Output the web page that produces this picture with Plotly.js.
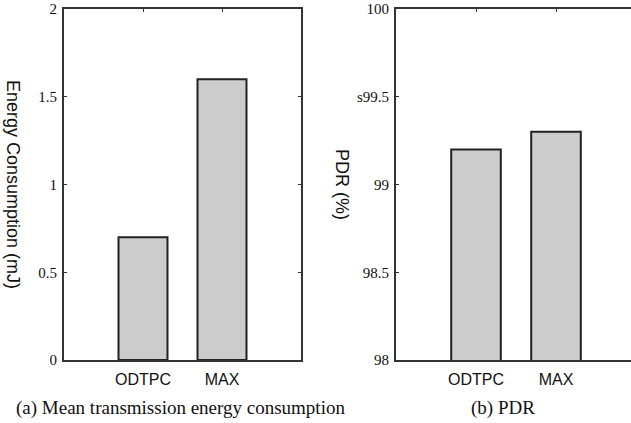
<!DOCTYPE html>
<html>
<head>
<meta charset="utf-8">
<script src="https://cdn.plot.ly/plotly-3.0.1.min.js"></script>
<style>
html,body{margin:0;padding:0;overflow:hidden;background:#fff;}
#chart{width:645px;height:423px;}
</style>
</head>
<body>
<div id="chart"></div>
<script>
var categories = ['ODTPC', 'MAX'];
var energy = [0.7, 1.6];
var pdr = [99.2, 99.3];
var energyTickVals = [0, 0.5, 1, 1.5, 2];
var energyTickText = ['0', '0.5', '1', '1.5', '2'];
var pdrTickVals = [98, 98.5, 99, 99.5, 100];
var pdrTickText = ['98', '98.5', '99', 's99.5', '100'];
var leftYTitle = 'Energy Consumption (mJ)';
var rightYTitle = 'PDR (%)';
var captionA = '(a) Mean transmission energy consumption';
var captionB = '(b) PDR';

var W = 645, H = 423;
function px(x){ return x / W; }
function py(y){ return (H - y) / H; }

var barStyle = {color: '#cccccc', line: {color: '#222222', width: 2}};

var traces = [
  {type: 'bar', x: categories, y: energy, width: 0.62, marker: barStyle, xaxis: 'x', yaxis: 'y', hoverinfo: 'none'},
  {type: 'bar', x: categories, y: pdr, width: 0.62, marker: barStyle, xaxis: 'x2', yaxis: 'y2', hoverinfo: 'none'}
];

var axisCommon = {
  showline: true, linecolor: '#333333', linewidth: 2, mirror: 'ticks',
  ticks: 'inside', ticklen: 3, tickwidth: 1, tickcolor: '#333333',
  showgrid: false, zeroline: false
};

function xax(domain){
  return Object.assign({}, axisCommon, {
    domain: domain, type: 'category', range: [-1, 2],
    tickfont: {family: 'Liberation Sans, Arial, sans-serif', size: 16, color: '#111'},
    layer: 'below traces', ticklabelstandoff: 4
  });
}
function yax(domain, anchor, range, vals, text){
  return Object.assign({}, axisCommon, {
    domain: domain, anchor: anchor, range: range,
    tickmode: 'array', tickvals: vals, ticktext: text,
    tickfont: {family: 'Liberation Serif, Times New Roman, serif', size: 15, color: '#111'},
    ticklabelstandoff: 2
  });
}

var ydom = [py(360), py(9)];

var layout = {
  width: W, height: H,
  margin: {l: 0, r: 0, t: 0, b: 0},
  paper_bgcolor: '#ffffff', plot_bgcolor: '#ffffff',
  showlegend: false,
  xaxis: Object.assign(xax([px(64), px(301)]), {anchor: 'y'}),
  yaxis: yax(ydom, 'x', [0, 2], energyTickVals, energyTickText),
  xaxis2: Object.assign(xax([px(396), px(636)]), {anchor: 'y2'}),
  yaxis2: yax(ydom, 'x2', [98, 100], pdrTickVals, pdrTickText),
  annotations: [
    {text: leftYTitle, xref: 'paper', yref: 'paper', x: px(13), y: py(184), textangle: 90,
     showarrow: false, xanchor: 'center', yanchor: 'middle',
     font: {family: 'Liberation Sans, Arial, sans-serif', size: 18, color: '#111'}},
    {text: rightYTitle, xref: 'paper', yref: 'paper', x: px(342), y: py(184), textangle: 90,
     showarrow: false, xanchor: 'center', yanchor: 'middle',
     font: {family: 'Liberation Sans, Arial, sans-serif', size: 18, color: '#111'}},
    {text: captionA, xref: 'paper', yref: 'paper', x: px(180), y: py(408),
     showarrow: false, xanchor: 'center', yanchor: 'middle',
     font: {family: 'Liberation Serif, Times New Roman, serif', size: 19, color: '#111'}},
    {text: captionB, xref: 'paper', yref: 'paper', x: px(503), y: py(408),
     showarrow: false, xanchor: 'center', yanchor: 'middle',
     font: {family: 'Liberation Serif, Times New Roman, serif', size: 19, color: '#111'}}
  ]
};

Plotly.newPlot('chart', traces, layout, {staticPlot: true, displayModeBar: false});
</script>
</body>
</html>
